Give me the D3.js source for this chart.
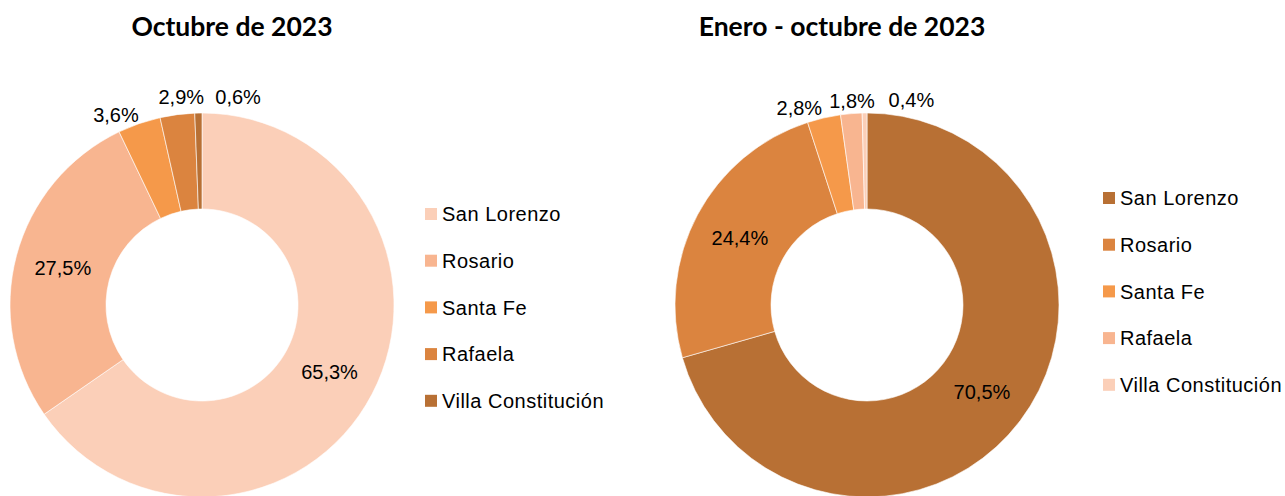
<!DOCTYPE html>
<html>
<head>
<meta charset="utf-8">
<script src="https://cdn.jsdelivr.net/npm/d3@7"></script>
<style>
  body { margin: 0; background: #fff; }
  svg { display: block; }
</style>
</head>
<body>
<svg id="chart" width="1285" height="496"></svg>
<script>
// data
let categories = ["San Lorenzo", "Rosario", "Santa Fe", "Rafaela", "Villa Constitución"];
let octValues = [65.3, 27.5, 3.6, 2.9, 0.6];
let ytdValues = [70.5, 24.4, 2.8, 1.8, 0.4];
let titles = ["Octubre de 2023", "Enero - octubre de 2023"];

// palettes (left is light->dark, right is dark->light)
let octColors = ["#fbcfb8", "#f8b590", "#f5994a", "#db843f", "#b87034"];
let ytdColors = ["#b87034", "#db843f", "#f5994a", "#f8b590", "#fbcfb8"];

// nudges for outside labels of the small slices [dx, dy]
let octNudge = [[0, 0], [0, 0], [-18, 6], [6, -2], [40, 0]];
let ytdNudge = [[0, 0], [0, 0], [-21, 5], [2, 3], [47, 3]];

let svg = d3.select("#chart");

let outerR = 192;
let innerR = 96;

function fmt(v) {
    return v.toFixed(1).replace(".", ",") + "%";
}

function drawDonut(cx, cy, values, colors, nudge, title, titleX, legendX, legendY) {
    let g = svg.append("g")
        .attr("transform", "translate(" + cx + "," + cy + ")");

    let pie = d3.pie().sort(null).value(d => d);
    let arcs = pie(values);

    let arc = d3.arc().innerRadius(innerR).outerRadius(outerR);
    let labelArc = d3.arc().innerRadius(208).outerRadius(208);

    g.selectAll("path")
        .data(arcs)
        .enter()
        .append("path")
        .attr("d", arc)
        .attr("fill", (d, i) => colors[i])
        .attr("stroke", "#fff")
        .attr("stroke-width", 0.6);

    g.selectAll("text.lbl")
        .data(arcs)
        .enter()
        .append("text")
        .attr("class", "lbl")
        .attr("transform", (d, i) => {
            let big = (d.endAngle - d.startAngle) > 0.5;
            let p = big ? arc.centroid(d) : labelArc.centroid(d);
            return "translate(" + (p[0] + nudge[i][0]) + "," + (p[1] + nudge[i][1]) + ")";
        })
        .attr("text-anchor", "middle")
        .attr("dy", "0.36em")
        .style("font-family", "'Liberation Sans', Arial, sans-serif")
        .style("font-size", "20px")
        .attr("fill", "#000")
        .text(d => fmt(d.data));

    svg.append("text")
        .attr("x", titleX)
        .attr("y", 36)
        .attr("text-anchor", "middle")
        .style("font-family", "Lato, 'Open Sans', sans-serif")
        .style("font-weight", "bold")
        .style("font-size", "26.5px")
        .attr("fill", "#000")
        .text(title);

    let legend = svg.append("g")
        .attr("transform", "translate(" + legendX + "," + legendY + ")");

    let rows = legend.selectAll("g")
        .data(categories)
        .enter()
        .append("g")
        .attr("transform", (d, i) => "translate(0," + (i * 46.7) + ")");

    rows.append("rect")
        .attr("x", 0)
        .attr("y", -6)
        .attr("width", 12)
        .attr("height", 12)
        .attr("fill", (d, i) => colors[i]);

    rows.append("text")
        .attr("x", 17)
        .attr("dy", "0.36em")
        .style("font-family", "'Liberation Sans', Arial, sans-serif")
        .style("font-size", "20px")
        .style("letter-spacing", "0.5px")
        .attr("fill", "#000")
        .text(d => d);
}

drawDonut(202, 305, octValues, octColors, octNudge, titles[0], 232, 425, 214);
drawDonut(867, 305, ytdValues, ytdColors, ytdNudge, titles[1], 842, 1103, 198);
</script>
</body>
</html>
